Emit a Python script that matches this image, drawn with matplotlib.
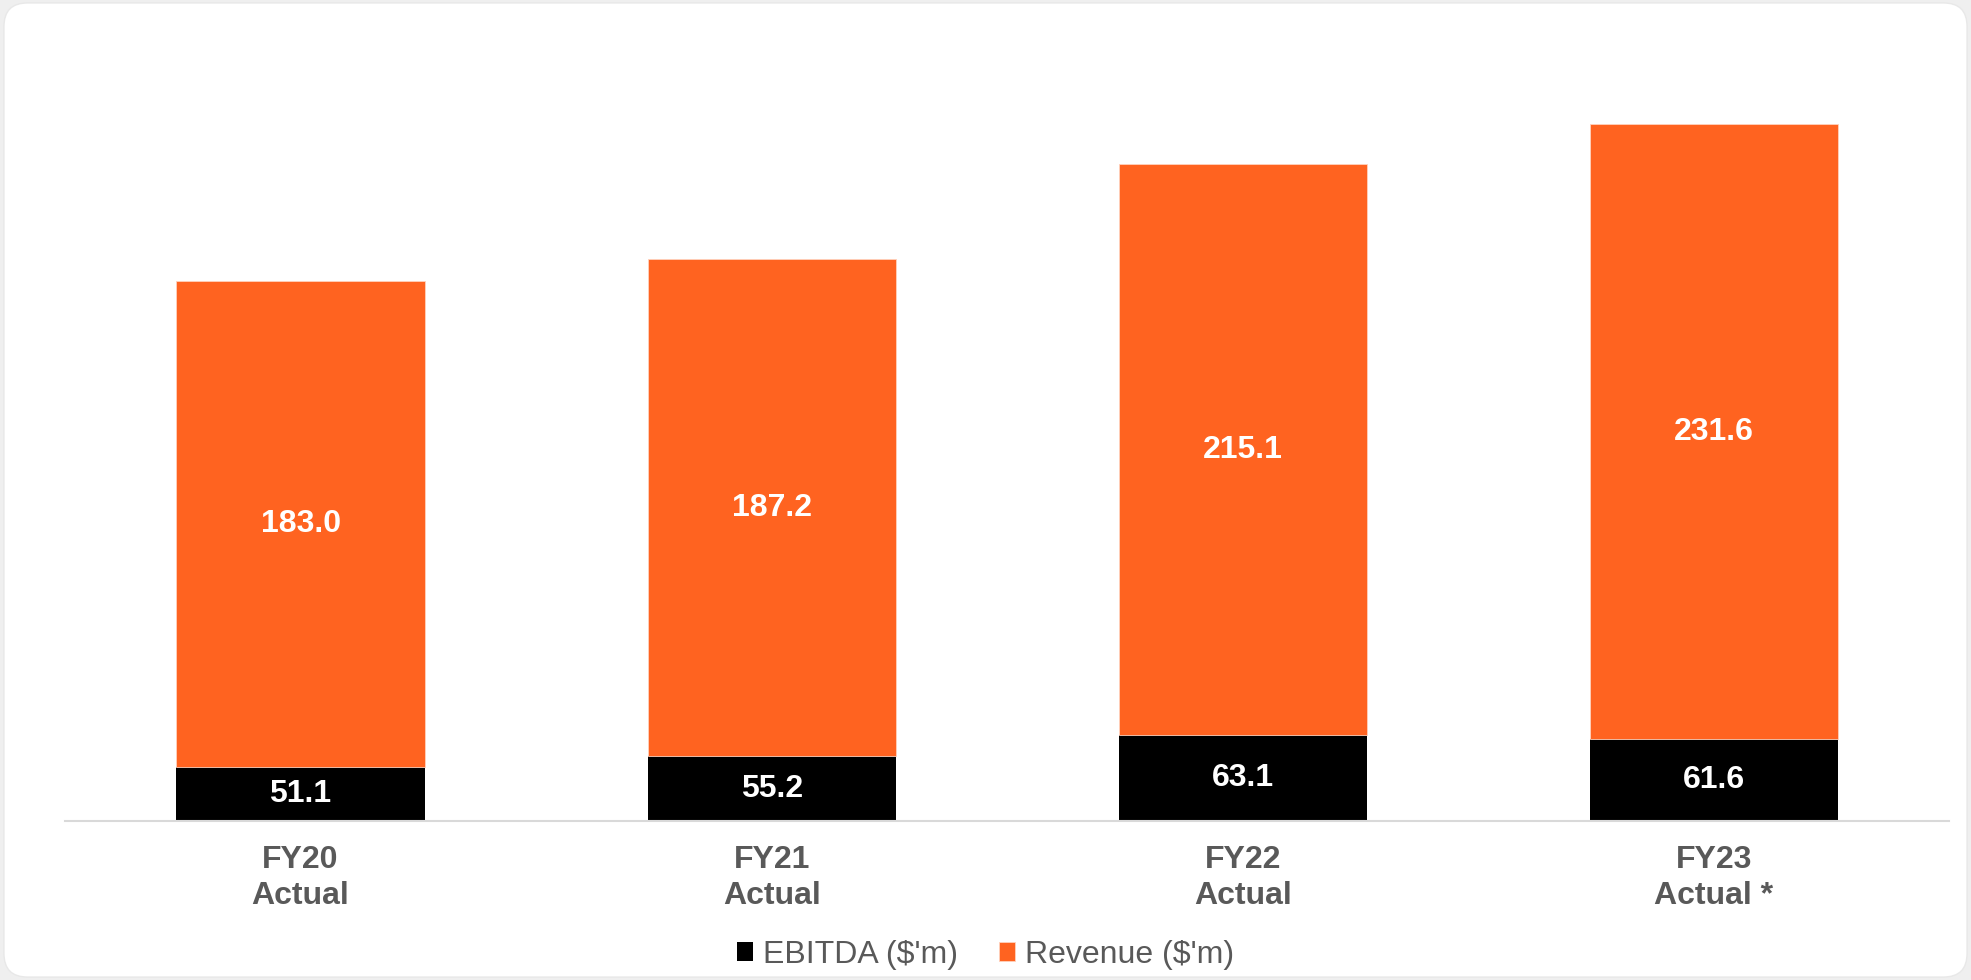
import matplotlib.pyplot as plt
from matplotlib.patches import FancyBboxPatch

plt.rcParams['font.family'] = ['Liberation Sans', 'DejaVu Sans']

categories = ['FY20\nActual', 'FY21\nActual', 'FY22\nActual', 'FY23\nActual *']
ebitda = [51.1, 55.2, 63.1, 61.6]
revenue = [183.0, 187.2, 215.1, 231.6]

orange = '#FF6320'
grey_text = '#595959'

fig = plt.figure(figsize=(19.71, 9.80), dpi=100)
fig.patch.set_facecolor('#efefef')

# rounded white card behind the chart
card = FancyBboxPatch((0.002, 0.003), 0.996, 0.994,
                      boxstyle='round,pad=0,rounding_size=0.012',
                      transform=fig.transFigure, facecolor='white',
                      edgecolor='#e8e8e8', linewidth=1, zorder=-5,
                      mutation_aspect=1971 / 980)
fig.patches.append(card)

ax = fig.add_axes([0.033, 0.1622, 0.956, 0.797])
ax.set_zorder(2)
ax.patch.set_alpha(0)

x = range(len(categories))
width = 0.527
b1 = ax.bar(x, ebitda, width, bottom=0, color='black', label="EBITDA ($'m)", zorder=2)
b2 = ax.bar(x, revenue, width, bottom=ebitda, color=orange, label="Revenue ($'m)",
            edgecolor='#ffd2bd', linewidth=0.6, zorder=2)

ymin = 30.7
ax.set_ylim(ymin, 325)
ax.set_xlim(-0.5, 3.5)

# value labels centred in each visible segment
for i in x:
    ax.text(i, (ymin + ebitda[i]) / 2, f'{ebitda[i]:.1f}', ha='center', va='center',
            color='white', fontsize=23, fontweight='bold')
    ax.text(i, ebitda[i] + revenue[i] / 2, f'{revenue[i]:.1f}', ha='center', va='center',
            color='white', fontsize=23, fontweight='bold')

ax.set_xticks(list(x))
ax.set_xticklabels(categories, fontsize=23, fontweight='bold', color=grey_text,
                   linespacing=1.28)
ax.tick_params(axis='x', length=0, pad=17)
ax.set_yticks([])

for name, spine in ax.spines.items():
    spine.set_visible(name == 'bottom')
ax.spines['bottom'].set_color('#d9d9d9')
ax.spines['bottom'].set_linewidth(1.5)

leg = fig.legend(handles=[b1, b2], loc='center', bbox_to_anchor=(0.5, 0.026),
                 ncol=2, frameon=False, fontsize=23, handlelength=0.5,
                 handleheight=0.55, handletextpad=0.3, columnspacing=1.3)
for t in leg.get_texts():
    t.set_color(grey_text)

fig.savefig('out.png', dpi=100, facecolor=fig.get_facecolor())
